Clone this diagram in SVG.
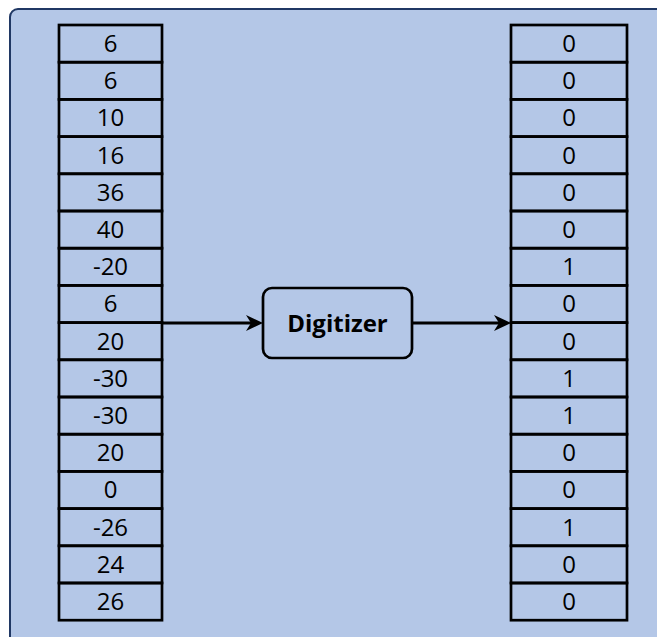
<svg xmlns="http://www.w3.org/2000/svg" width="657" height="637" viewBox="0 0 657 637">
  <style>
    .frame { fill: #b4c7e7; stroke: #203864; stroke-width: 2; }
    .cell { fill: none; stroke: #000; stroke-width: 2.7; }
    .num { font-family: "Open Sans", "Liberation Sans", sans-serif; font-size: 24px; fill: #000; text-anchor: middle; }
    .box { fill: #b4c7e7; stroke: #000; stroke-width: 2.7; }
    .label { font-family: "Open Sans", "Liberation Sans", sans-serif; font-size: 24px; font-weight: bold; fill: #000; text-anchor: middle; }
    .wire { fill: none; stroke: #000; stroke-width: 3; }
  </style>
  <defs>
    <!-- notched arrowhead; the line stops at the notch -->
    <marker id="arrow" markerUnits="userSpaceOnUse" markerWidth="20" markerHeight="20" viewBox="-18 -10 20 20" refX="-12" refY="0" orient="auto">
      <path d="M0,0 L-17,-8 L-12,0 L-17,8 Z" fill="#000"/>
    </marker>
  </defs>

  <!-- background panel -->
  <rect class="frame" x="10" y="9" width="680" height="660" rx="8"/>

  <!-- input samples -->
  <g id="input-column">
    <rect class="cell" x="59" y="25" width="103" height="37.2"/>
    <rect class="cell" x="59" y="62.2" width="103" height="37.2"/>
    <rect class="cell" x="59" y="99.4" width="103" height="37.2"/>
    <rect class="cell" x="59" y="136.6" width="103" height="37.2"/>
    <rect class="cell" x="59" y="173.8" width="103" height="37.2"/>
    <rect class="cell" x="59" y="211" width="103" height="37.2"/>
    <rect class="cell" x="59" y="248.2" width="103" height="37.2"/>
    <rect class="cell" x="59" y="285.4" width="103" height="37.2"/>
    <rect class="cell" x="59" y="322.6" width="103" height="37.2"/>
    <rect class="cell" x="59" y="359.8" width="103" height="37.2"/>
    <rect class="cell" x="59" y="397" width="103" height="37.2"/>
    <rect class="cell" x="59" y="434.2" width="103" height="37.2"/>
    <rect class="cell" x="59" y="471.4" width="103" height="37.2"/>
    <rect class="cell" x="59" y="508.6" width="103" height="37.2"/>
    <rect class="cell" x="59" y="545.8" width="103" height="37.2"/>
    <rect class="cell" x="59" y="583" width="103" height="37.2"/>
    <text class="num" x="110.5" y="52">6</text>
    <text class="num" x="110.5" y="89.2">6</text>
    <text class="num" x="110.5" y="126.4">10</text>
    <text class="num" x="110.5" y="163.6">16</text>
    <text class="num" x="110.5" y="200.8">36</text>
    <text class="num" x="110.5" y="238">40</text>
    <text class="num" x="110.5" y="275.2">-20</text>
    <text class="num" x="110.5" y="312.4">6</text>
    <text class="num" x="110.5" y="349.6">20</text>
    <text class="num" x="110.5" y="386.8">-30</text>
    <text class="num" x="110.5" y="424">-30</text>
    <text class="num" x="110.5" y="461.2">20</text>
    <text class="num" x="110.5" y="498.4">0</text>
    <text class="num" x="110.5" y="535.6">-26</text>
    <text class="num" x="110.5" y="572.8">24</text>
    <text class="num" x="110.5" y="610">26</text>
  </g>

  <!-- digitizer block -->
  <g id="digitizer">
    <rect class="box" x="263" y="288" width="149" height="70" rx="9"/>
    <text class="label" x="337.5" y="331.5">Digitizer</text>
  </g>

  <!-- output bits -->
  <g id="output-column">
    <rect class="cell" x="511" y="25" width="116" height="37.2"/>
    <rect class="cell" x="511" y="62.2" width="116" height="37.2"/>
    <rect class="cell" x="511" y="99.4" width="116" height="37.2"/>
    <rect class="cell" x="511" y="136.6" width="116" height="37.2"/>
    <rect class="cell" x="511" y="173.8" width="116" height="37.2"/>
    <rect class="cell" x="511" y="211" width="116" height="37.2"/>
    <rect class="cell" x="511" y="248.2" width="116" height="37.2"/>
    <rect class="cell" x="511" y="285.4" width="116" height="37.2"/>
    <rect class="cell" x="511" y="322.6" width="116" height="37.2"/>
    <rect class="cell" x="511" y="359.8" width="116" height="37.2"/>
    <rect class="cell" x="511" y="397" width="116" height="37.2"/>
    <rect class="cell" x="511" y="434.2" width="116" height="37.2"/>
    <rect class="cell" x="511" y="471.4" width="116" height="37.2"/>
    <rect class="cell" x="511" y="508.6" width="116" height="37.2"/>
    <rect class="cell" x="511" y="545.8" width="116" height="37.2"/>
    <rect class="cell" x="511" y="583" width="116" height="37.2"/>
    <text class="num" x="569" y="52">0</text>
    <text class="num" x="569" y="89.2">0</text>
    <text class="num" x="569" y="126.4">0</text>
    <text class="num" x="569" y="163.6">0</text>
    <text class="num" x="569" y="200.8">0</text>
    <text class="num" x="569" y="238">0</text>
    <text class="num" x="569" y="275.2">1</text>
    <text class="num" x="569" y="312.4">0</text>
    <text class="num" x="569" y="349.6">0</text>
    <text class="num" x="569" y="386.8">1</text>
    <text class="num" x="569" y="424">1</text>
    <text class="num" x="569" y="461.2">0</text>
    <text class="num" x="569" y="498.4">0</text>
    <text class="num" x="569" y="535.6">1</text>
    <text class="num" x="569" y="572.8">0</text>
    <text class="num" x="569" y="610">0</text>
  </g>

  <!-- connectors -->
  <g id="connectors">
    <path class="wire" d="M162,323 L251,323" marker-end="url(#arrow)"/>
    <path class="wire" d="M412,323 L499,323" marker-end="url(#arrow)"/>
  </g>
</svg>
